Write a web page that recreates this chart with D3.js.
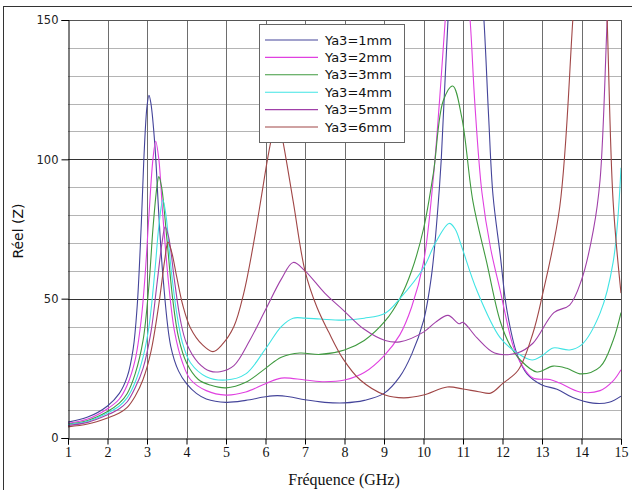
<!DOCTYPE html>
<html><head><meta charset="utf-8">
<script src="https://cdn.jsdelivr.net/npm/d3@7"></script>
<style>body{margin:0;background:#fff}svg{display:block}</style>
</head><body><svg id="c" width="632" height="490"></svg>
<script>
const seriesNames = ["Ya3=1mm","Ya3=2mm","Ya3=3mm","Ya3=4mm","Ya3=5mm","Ya3=6mm"];
const seriesColors = ["#44449a","#e040e0","#3f9a3f","#40e4e4","#a040a8","#a04646"];
const xTicks = [1,2,3,4,5,6,7,8,9,10,11,12,13,14,15];
const yTicks = [0,50,100,150];
const xTitle = "Fréquence (GHz)";
const yTitle = "Réel (Z)";

const s1 = [[1,5.7],[1.5,7.5],[2,11.5],[2.3,16],[2.5,22],[2.65,32],[2.75,47],[2.85,75],[2.92,100],[3.0,119],[3.05,123],[3.1,120],[3.2,105],[3.3,80],[3.41,57],[3.6,33],[3.8,24],[4.0,19.5],[4.25,16],[4.5,14],[5,12.8],[5.5,13.5],[6,14.8],[6.3,15.2],[6.6,14.8],[7,13.7],[7.5,12.8],[8,12.6],[8.5,13.5],[9,16],[9.4,22],[9.7,30],[10,42],[10.2,58],[10.35,80],[10.45,100],[10.62,150],[10.8,190],[11.1,200],[11.4,175],[11.53,150],[11.65,115],[11.76,87],[11.94,66],[12.11,46],[12.37,30],[12.62,23],[13.0,19],[13.38,17.5],[13.78,14.5],[14.29,12.5],[14.7,12.8],[15,15]];
const s2 = [[1,5.3],[1.5,6.8],[2,10.5],[2.3,14],[2.5,19],[2.7,28],[2.85,42],[2.95,58],[3.05,80],[3.15,100],[3.22,106.5],[3.3,100],[3.4,80],[3.55,55],[3.7,38],[3.9,27],[4.1,21],[4.5,17],[5,15.4],[5.5,16.5],[6,19.5],[6.4,21.5],[7,20.8],[7.5,20.2],[8,20.8],[8.5,23.5],[9,29.5],[9.4,37],[9.7,47],[10,63],[10.24,92],[10.4,120],[10.55,150],[10.7,185],[10.9,190],[11.05,170],[11.18,150],[11.3,120],[11.48,88],[11.7,68],[11.94,53],[12.27,33],[12.5,26],[12.77,21.5],[13.2,21],[13.45,19.7],[13.96,16.5],[14.47,17],[14.8,20.5],[15,24.5]];
const s3 = [[1,5],[1.5,6.3],[2,9.5],[2.3,12.5],[2.5,16],[2.7,23],[2.9,35],[3.05,55],[3.15,75],[3.25,90],[3.3,93.8],[3.37,90],[3.5,72],[3.65,50],[3.8,36],[4.0,27],[4.3,21],[4.6,19],[5,18],[5.5,20],[6,25],[6.4,29],[6.87,30.5],[7.38,30],[8,31.6],[8.5,35],[9.03,42],[9.4,50],[9.7,60],[10,75],[10.25,95],[10.5,121],[10.74,126.3],[10.97,115],[11.25,85],[11.6,63],[11.94,42],[12.2,33],[12.45,28],[12.87,23.7],[13.28,25.8],[13.63,25],[14.0,23],[14.47,25.5],[14.8,35],[15,45]];
const s4 = [[1,4.8],[1.5,6],[2,9],[2.3,11.5],[2.5,14.5],[2.7,20],[2.9,29],[3.05,40],[3.2,60],[3.3,76],[3.4,85.4],[3.48,80],[3.6,62],[3.75,45],[3.9,34],[4.1,27],[4.5,22],[5,20.8],[5.5,23],[6,32],[6.4,40],[6.7,43],[7.0,43],[7.38,42.7],[7.96,42.3],[8.5,43],[9.03,44.8],[9.4,50],[10,61],[10.3,70],[10.65,77],[10.8,75],[10.97,68.5],[11.35,53],[11.94,36],[12.37,30.5],[12.75,28],[13.0,29.5],[13.28,32.3],[13.7,31.6],[14.0,33.4],[14.47,44.8],[14.8,63],[15,97]];
const s5 = [[1,4.5],[1.5,5.6],[2,8.3],[2.3,10.5],[2.5,13],[2.7,18],[2.9,25],[3.1,38],[3.25,55],[3.38,70],[3.46,75.8],[3.55,72],[3.7,56],[3.85,42],[4.0,34],[4.3,27],[4.6,24],[4.85,23.8],[5.2,26],[5.6,35],[6,46],[6.4,57],[6.7,63],[7,60],[7.5,52],[7.96,46],[8.5,39],[9.03,35],[9.4,34.5],[10,38],[10.3,41.5],[10.62,44],[10.9,41],[11.0,41.5],[11.35,36],[11.8,30.5],[12.37,30.5],[12.77,34],[13.3,45],[13.7,47.7],[14.0,56.7],[14.3,74.6],[14.47,92.6],[14.65,150],[14.8,200],[15,230]];
const s6 = [[1,4],[1.5,5],[2,7.2],[2.3,9],[2.5,11],[2.7,15],[2.9,21],[3.1,31],[3.3,48],[3.45,64],[3.53,70.3],[3.62,67],[3.75,58],[3.9,48],[4.1,39.5],[4.4,33.5],[4.67,31],[4.9,33.5],[5.2,40],[5.45,52],[5.7,70],[5.9,87],[6.05,100],[6.16,108],[6.3,115],[6.42,108],[6.7,85],[7.0,60],[7.3,47],[7.6,38],[7.96,28.5],[8.4,20.8],[9.03,15.4],[9.5,14.4],[10,15.4],[10.6,18.3],[11,17.6],[11.4,16.6],[11.7,16.1],[12.0,19.5],[12.4,24.4],[12.77,37.6],[13.0,50.6],[13.45,83],[13.78,150],[14.0,200],[14.4,220],[14.55,190],[14.65,150],[14.8,85],[15,52]];
const seriesData = [s1,s2,s3,s4,s5,s6];

const svg = d3.select("#c");
const L=68,R=621,T=20,B=438;
const x = d3.scaleLinear().domain([1,15]).range([L,R]);
const y = d3.scaleLinear().domain([0,150]).range([B,T]);

svg.append("rect").attr("x",3.5).attr("y",6.5).attr("width",640).attr("height",500)
  .attr("fill","none").attr("stroke","#333").attr("stroke-width",1);

const g = svg.append("g");
d3.range(10,150,10).forEach(v=>{
  const major = v%50===0;
  g.append("line").attr("x1",L).attr("x2",R).attr("y1",Math.round(y(v))+0.5).attr("y2",Math.round(y(v))+0.5)
   .attr("stroke", major?"#333":"#b4b4b4").attr("stroke-width",1);
});
xTicks.slice(1,-1).forEach(v=>{
  g.append("line").attr("x1",Math.round(x(v))+0.5).attr("x2",Math.round(x(v))+0.5).attr("y1",T).attr("y2",B)
   .attr("stroke","#6e6e6e").attr("stroke-width",1);
});

svg.append("line").attr("x1",L).attr("x2",R+0.5).attr("y1",T+0.5).attr("y2",T+0.5).attr("stroke","#555");
svg.append("line").attr("x1",R+0.5).attr("x2",R+0.5).attr("y1",T).attr("y2",B).attr("stroke","#555");

svg.append("clipPath").attr("id","clip").append("rect").attr("x",L).attr("y",T).attr("width",R-L).attr("height",B-T);
const line = d3.line().x(d=>x(d[0])).y(d=>y(d[1])).curve(d3.curveCatmullRom.alpha(0.5));
const cg = svg.append("g").attr("clip-path","url(#clip)");
seriesData.forEach((s,i)=>{
  cg.append("path").attr("d",line(s)).attr("fill","none").attr("stroke",seriesColors[i]).attr("stroke-width",1.1);
});

const xAxis = d3.axisBottom(x).tickValues(xTicks).tickSize(6).tickPadding(3).tickFormat(d3.format("d"));
const xa = svg.append("g").attr("transform",`translate(0,${B+0.5})`).call(xAxis);
xa.select(".domain").attr("stroke","#000");
xa.selectAll("text").attr("font-family","'Liberation Serif', serif").attr("font-size",14).attr("fill","#111");
const yAxis = d3.axisLeft(y).tickValues(yTicks).tickSize(7).tickPadding(3);
const ya = svg.append("g").attr("transform",`translate(${L+0.5},0)`).call(yAxis);
ya.select(".domain").attr("stroke","#000");
ya.selectAll("text").attr("font-family","'DejaVu Sans', sans-serif").attr("font-size",11.5).attr("fill","#222");

svg.append("text").attr("x",344).attr("y",485).attr("text-anchor","middle")
  .attr("font-family","'Liberation Serif', serif").attr("font-size",16).attr("fill","#111").text(xTitle);
svg.append("text").attr("transform","translate(23,231) rotate(-90)").attr("text-anchor","middle")
  .attr("font-family","'DejaVu Sans', sans-serif").attr("font-size",14).attr("fill","#111").text(yTitle);

const lg = svg.append("g");
lg.append("rect").attr("x",259.5).attr("y",24.5).attr("width",145).attr("height",118)
  .attr("fill","#fff").attr("stroke","#666");
seriesNames.forEach((n,i)=>{
  const yy = 40 + i*17.4;
  lg.append("line").attr("x1",265).attr("x2",318).attr("y1",yy).attr("y2",yy).attr("stroke",seriesColors[i]).attr("stroke-width",1.1);
  lg.append("text").attr("x",325).attr("y",yy+4.5).attr("font-family","'DejaVu Sans', sans-serif")
    .attr("font-size",13).attr("fill","#111").text(n);
});
</script></body></html>
